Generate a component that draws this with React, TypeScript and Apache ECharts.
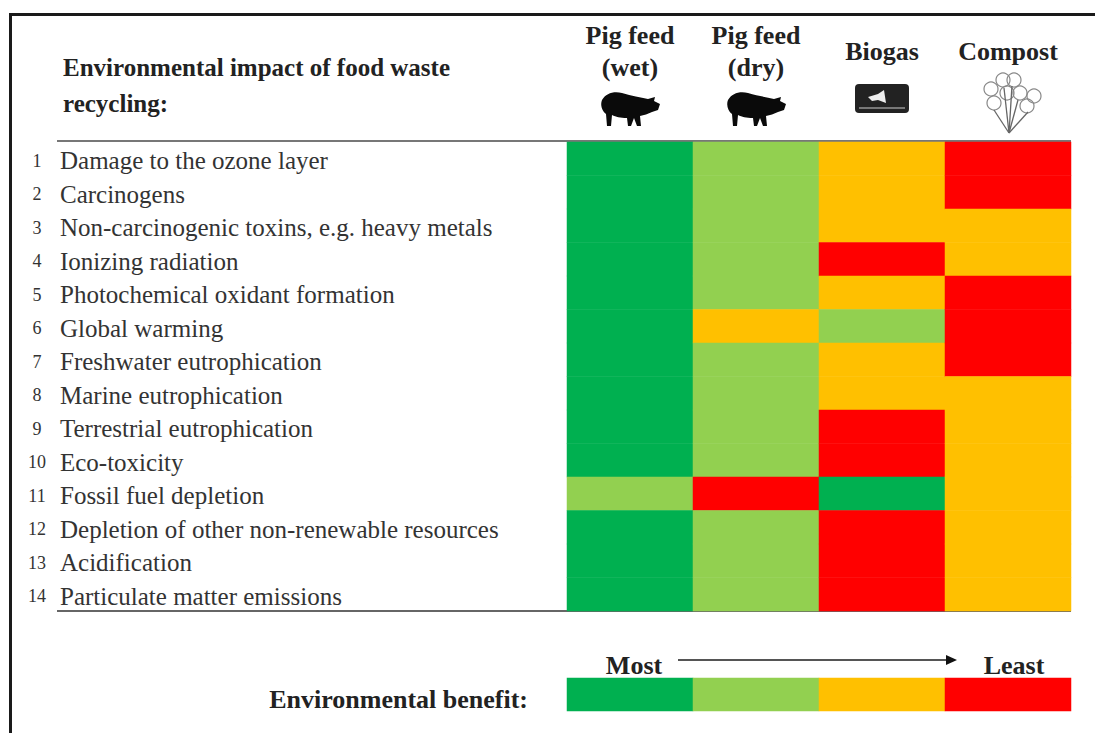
import React, { useEffect, useRef } from "react";
import * as echarts from "echarts";

const columns = ["Pig feed\n(wet)", "Pig feed\n(dry)", "Biogas", "Compost"];
const impacts = [
  "Damage to the ozone layer",
  "Carcinogens",
  "Non-carcinogenic toxins, e.g. heavy metals",
  "Ionizing radiation",
  "Photochemical oxidant formation",
  "Global warming",
  "Freshwater eutrophication",
  "Marine eutrophication",
  "Terrestrial eutrophication",
  "Eco-toxicity",
  "Fossil fuel depletion",
  "Depletion of other non-renewable resources",
  "Acidification",
  "Particulate matter emissions",
];
// 1 = most environmental benefit ... 4 = least
const pigWet = [1, 1, 1, 1, 1, 1, 1, 1, 1, 1, 2, 1, 1, 1];
const pigDry = [2, 2, 2, 2, 2, 3, 2, 2, 2, 2, 4, 2, 2, 2];
const biogas = [3, 3, 3, 4, 3, 2, 3, 3, 4, 4, 1, 4, 4, 4];
const compost = [4, 4, 3, 3, 4, 4, 4, 3, 3, 3, 3, 3, 3, 3];
const scaleRanks = [1, 2, 3, 4];
const rankColors = ["#00B050", "#92D050", "#FFC000", "#FF0000"];

const FONT = '"Liberation Serif", serif';
const PIG =
  "M2,10 C6,3 14,1 22,3 C32,6 40,7 48,9 L55,7 L54,11 L60,14 L58,20 L52,22 C48,24 44,25 40,26 L41,36 L37,36 L34,28 L31,36 L28,36 L27,28 C20,28 16,27 12,25 L11,36 L7,36 L6,24 C2,21 0,15 2,10 Z";
echarts.graphic.registerShape("pigIcon", echarts.graphic.extendPath(PIG, {}) as any);

function flower(): any[] {
  const centers = [
    [1003, 80], [1014, 80], [991, 89], [994, 103], [1007, 93],
    [1020, 93], [1034, 96], [1027, 106],
  ];
  const stroke = { stroke: "#888", lineWidth: 1.2, fill: "none" };
  const tips = [[1004, 88], [994, 110], [1028, 112], [1012, 86], [1018, 100]];
  return [
    ...centers.map(([cx, cy]) => ({ type: "circle", shape: { cx, cy, r: 7 }, style: stroke })),
    ...tips.map(([x, y]) => ({
      type: "line",
      shape: { x1: 1009, y1: 133, x2: x, y2: y },
      style: { stroke: "#666", lineWidth: 1.3 },
    })),
  ];
}

function txt(text: string, x: number, y: number, size: number, weight: string, align = "left"): any {
  return {
    type: "text",
    x,
    y,
    style: { text, fontFamily: FONT, fontSize: size, fontWeight: weight, fill: "#222", align, verticalAlign: "middle" },
  };
}

export default function App() {
  const ref = useRef<HTMLDivElement>(null);
  useEffect(() => {
    const chart = echarts.init(ref.current!, undefined, { renderer: "svg" });
    const colSeries = [pigWet, pigDry, biogas, compost];
    const cells: any[] = [];
    colSeries.forEach((vals, c) => vals.forEach((v, r) => cells.push([c, r, v])));
    chart.setOption({
      animation: false,
      backgroundColor: "#fff",
      grid: [
        { left: 567, top: 142, width: 504, height: 469 },
        { left: 567, top: 678, width: 504, height: 33 },
      ],
      xAxis: [
        {
          type: "category",
          data: columns,
          position: "top",
          gridIndex: 0,
          axisLine: { show: false },
          axisTick: { show: false },
          splitLine: { show: false },
          axisLabel: {
            interval: 0,
            hideOverlap: false,
            margin: 91,
            verticalAlign: "middle",
            fontFamily: FONT,
            fontSize: 26,
            fontWeight: "bold",
            color: "#222",
            lineHeight: 32,
          },
        },
        { type: "category", data: scaleRanks, gridIndex: 1, show: false },
      ],
      yAxis: [
        {
          type: "category",
          data: impacts,
          inverse: true,
          gridIndex: 0,
          axisLine: { show: false },
          axisTick: { show: false },
          splitLine: { show: false },
          axisLabel: {
            interval: 0,
            margin: 543,
            align: "left",
            padding: [4, 0, 0, 0],
            formatter: (value: string, i: number) => `{n|${i + 1}}{t|${value}}`,
            rich: {
              n: { width: 26, align: "right", fontFamily: FONT, fontSize: 18, color: "#333" },
              t: { padding: [0, 0, 0, 10], fontFamily: FONT, fontSize: 25, color: "#333" },
            },
          },
        },
        { type: "category", data: ["benefit"], gridIndex: 1, show: false },
      ],
      visualMap: {
        show: false,
        type: "piecewise",
        dimension: 2,
        seriesIndex: [0, 1],
        pieces: scaleRanks.map((r, i) => ({ value: r, color: rankColors[i] })),
      },
      series: [
        { type: "heatmap", xAxisIndex: 0, yAxisIndex: 0, data: cells, emphasis: { disabled: true } },
        {
          type: "heatmap",
          xAxisIndex: 1,
          yAxisIndex: 1,
          data: scaleRanks.map((r, i) => [i, 0, r]),
          emphasis: { disabled: true },
        },
      ],
      graphic: [
        { type: "rect", shape: { x: 9, y: 13, width: 1086, height: 3 }, style: { fill: "#1a1a1a" } },
        { type: "rect", shape: { x: 9, y: 13, width: 3, height: 720 }, style: { fill: "#1a1a1a" } },
        { type: "rect", shape: { x: 57, y: 140, width: 1014, height: 2 }, style: { fill: "#777" } },
        { type: "rect", shape: { x: 57, y: 610, width: 1014, height: 2 }, style: { fill: "#666" } },
        txt("Environmental impact of food waste", 63, 67, 25, "bold"),
        txt("recycling:", 63, 103, 25, "bold"),
        txt("Environmental benefit:", 528, 699, 26, "bold", "right"),
        txt("Most", 634, 665, 26, "bold", "center"),
        txt("Least", 1014, 665, 26, "bold", "center"),
        { type: "line", shape: { x1: 678, y1: 660, x2: 948, y2: 660 }, style: { stroke: "#555", lineWidth: 2 } },
        { type: "polygon", shape: { points: [[946, 655], [957, 660], [946, 665]] }, style: { fill: "#111" } },
        { type: "pigIcon", x: 600, y: 90, style: { fill: "#0a0a0a" } },
        { type: "pigIcon", x: 726, y: 90, style: { fill: "#0a0a0a" } },
        { type: "rect", shape: { x: 855, y: 84, width: 54, height: 29, r: 4 }, style: { fill: "#222" } },
        { type: "polygon", shape: { points: [[868, 97], [878, 94], [884, 90], [886, 103], [878, 100], [872, 101]] }, style: { fill: "#eee" } },
        { type: "rect", shape: { x: 859, y: 107, width: 46, height: 2 }, style: { fill: "#777" } },
        ...flower(),
      ],
    });
    return () => chart.dispose();
  }, []);
  return <div ref={ref} style={{ position: "fixed", left: 0, top: 0, width: 1095, height: 733 }} />;
}
